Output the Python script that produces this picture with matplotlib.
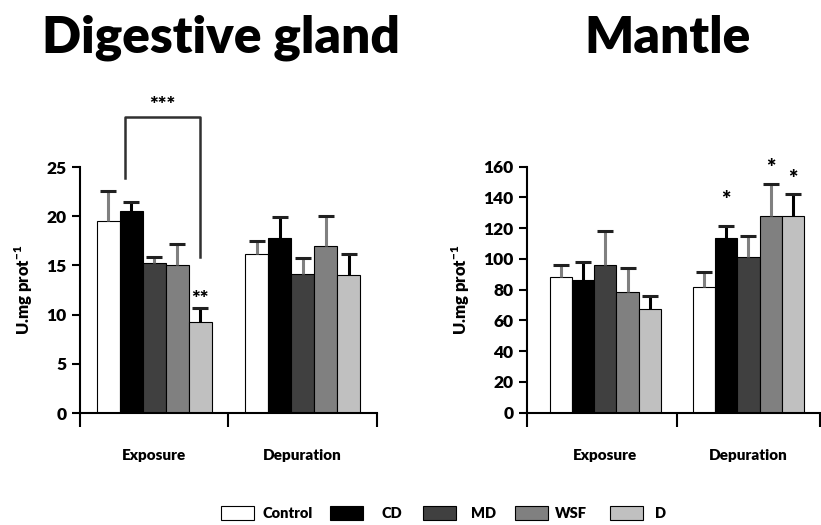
import matplotlib
matplotlib.use('Agg')
import matplotlib.pyplot as plt
from matplotlib.patches import Rectangle
import numpy as np

plt.rcParams['font.family'] = ['Lato', 'DejaVu Sans']
plt.rcParams['font.weight'] = 'heavy'
plt.rcParams['mathtext.fontset'] = 'custom'
plt.rcParams['mathtext.rm'] = 'Lato:heavy'
plt.rcParams['mathtext.bf'] = 'Lato:heavy'

# data
periods = ['Exposure', 'Depuration']
groups = ['Control', 'CD', 'MD', 'WSF', 'D']
colors = ['white', 'black', '#404040', '#808080', '#c0c0c0']
err_colors = ['#808080', 'black', '#808080', '#808080', 'black']

dg_mean = {'Control': [19.5, 16.2], 'CD': [20.5, 17.75], 'MD': [15.2, 14.1],
           'WSF': [15.0, 17.0], 'D': [9.2, 14.0]}
dg_err = {'Control': [3.1, 1.3], 'CD': [0.9, 2.15], 'MD': [0.7, 1.7],
          'WSF': [2.2, 3.0], 'D': [1.5, 2.15]}

mt_mean = {'Control': [88.5, 82.0], 'CD': [86.1, 113.4], 'MD': [95.9, 101.0],
           'WSF': [78.5, 128.1], 'D': [67.7, 127.7]}
mt_err = {'Control': [7.5, 9.7], 'CD': [11.9, 8.0], 'MD': [22.3, 14.0],
          'WSF': [15.8, 20.6], 'D': [8.4, 14.7]}

width = 0.155

W, H = 821, 525


def draw_panel(ax, means, errs, ymax, ystep, xlim):
    x = np.arange(len(periods))
    for i, g in enumerate(groups):
        pos = x + (i - 2) * width
        ax.bar(pos, means[g], width, color=colors[i], edgecolor='black',
               linewidth=0.8, label=g, zorder=2)
        eb = ax.errorbar(pos, means[g], yerr=[np.zeros(2), errs[g]], fmt='none',
                         ecolor=err_colors[i], elinewidth=2.2, capsize=6,
                         capthick=2.2, zorder=3)
        # only the upper cap is shown, drawn dark
        eb[1][0].set_visible(False)
        eb[1][1].set_markeredgecolor('#202020')
    ax.set_xlim(*xlim)
    ax.set_ylim(0, ymax)
    ax.set_yticks(np.arange(0, ymax + 1, ystep))
    ax.set_xticks([xlim[0], 0.5, 1.5])
    ax.set_xticklabels([])
    ax.set_xticks(x, minor=True)
    ax.set_xticklabels(periods, minor=True, fontsize=11, fontweight='heavy')
    ax.tick_params(axis='x', which='major', direction='out', length=10, width=1.5)
    ax.tick_params(axis='x', which='minor', length=0, pad=26)
    ax.tick_params(axis='y', direction='out', length=6, width=1.5, labelsize=12.5)
    for lbl in ax.get_yticklabels():
        lbl.set_fontweight('heavy')
    for s in ['top', 'right']:
        ax.spines[s].set_visible(False)
    for s in ['left', 'bottom']:
        ax.spines[s].set_linewidth(1.5)
    ax.set_ylabel(r'U.mg prot$^{-1}$', fontsize=12, fontweight='heavy',
                  labelpad=8)


fig = plt.figure(figsize=(8.21, 5.25), dpi=100)
ax1 = fig.add_axes([0.0974, 0.2133, 0.3618, 0.4686])
ax2 = fig.add_axes([0.6415, 0.2139, 0.3573, 0.4686])

draw_panel(ax1, dg_mean, dg_err, 25, 5, (-0.5, 1.5))
draw_panel(ax2, mt_mean, mt_err, 160, 20, (-0.55, 1.45))

# significance marks, digestive gland
xl = -1 * width - 0.04
xr = 2 * width
ax1.plot([xl, xl, xr, xr], [23.9, 30.1, 30.1, 15.9], color='#303030',
         lw=1.8, clip_on=False)
ax1.text((xl + xr) / 2, 30.3, '***', ha='center', va='bottom', fontsize=15,
         fontweight='heavy')
ax1.text(xr, 10.6, '**', ha='center', va='bottom', fontsize=15,
         fontweight='heavy')

# significance marks, mantle
ax2.text(1 - width, 131, '*', ha='center', va='bottom', fontsize=16,
         fontweight='heavy')
ax2.text(1 + width, 152, '*', ha='center', va='bottom', fontsize=16,
         fontweight='heavy')
ax2.text(1 + 2 * width, 145, '*', ha='center', va='bottom', fontsize=16,
         fontweight='heavy')

fig.text(221 / W, 1 - 38 / H, 'Digestive gland', ha='center', va='center',
         fontsize=37, fontweight='heavy')
fig.text(667 / W, 1 - 38 / H, 'Mantle', ha='center', va='center',
         fontsize=37, fontweight='heavy')

# legend laid out like the original (Excel style)
box_left = [221, 330, 423, 515, 610]
text_center = [288, 392, 483, 571, 660]
leg_y = 513
for i, g in enumerate(groups):
    fig.add_artist(Rectangle((box_left[i] / W, 1 - (leg_y + 7) / H),
                             33 / W, 14 / H, facecolor=colors[i],
                             edgecolor='black', linewidth=0.8,
                             transform=fig.transFigure))
    fig.text(text_center[i] / W, 1 - leg_y / H, g, ha='center', va='center',
             fontsize=10.5, fontweight='heavy')

fig.savefig('out.png', dpi=100)
